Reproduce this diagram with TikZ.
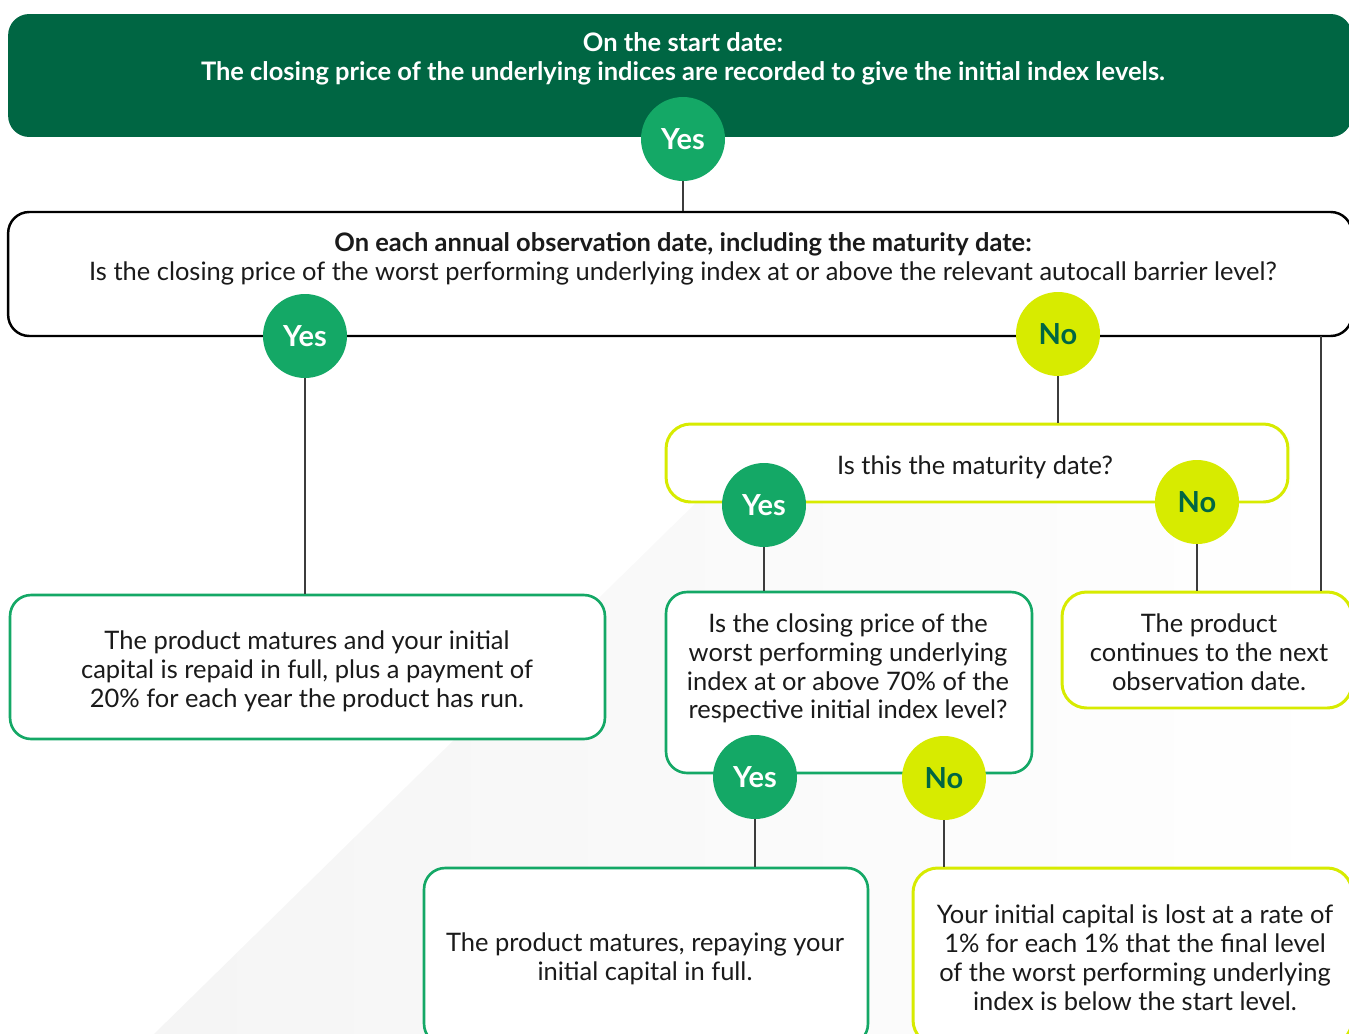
\documentclass[tikz,border=0pt]{standalone}
\usepackage{fontspec}
\setmainfont{Lato}

\definecolor{bankgreen}{HTML}{006643}
\definecolor{yesgreen}{HTML}{14A866}
\definecolor{nolime}{HTML}{D7EB00}
\definecolor{linkgray}{HTML}{3C3C3C}
\definecolor{inkblack}{HTML}{1A1A1A}

\tikzset{
  body/.style={font=\fontsize{14.5}{16.4}\selectfont, text=inkblack, align=center},
  startbox/.style={rectangle, rounded corners=12pt, fill=bankgreen},
  obsbox/.style={rectangle, rounded corners=12pt, draw=black, line width=1.4pt, fill=white},
  greenbox/.style={rectangle, rounded corners=12pt, draw=yesgreen, line width=1.5pt, fill=white},
  limebox/.style={rectangle, rounded corners=14pt, draw=nolime, line width=1.7pt, fill=white},
  yes/.style={circle, fill=yesgreen, minimum size=1.68cm, inner sep=0pt, text=white,
    font=\fontsize{16.5}{16.5}\bfseries\selectfont},
  no/.style={circle, fill=nolime, minimum size=1.68cm, inner sep=0pt, text=bankgreen,
    font=\fontsize{16.5}{16.5}\bfseries\selectfont},
  link/.style={draw=linkgray, line width=0.7pt}
}

\begin{document}
\begin{tikzpicture}[x=0.02cm, y=-0.02cm]
  \useasboundingbox (0,0) rectangle (1349,1034);
  % faint backdrop
  \shade[left color=black!4, right color=white] (154,1034) -- (760,440) -- (1349,440) -- (1349,1034) -- cycle;

  % boxes
  \node[startbox, minimum width=26.88cm, minimum height=2.46cm] (start) at (680,75.5) {};
  \node[obsbox, minimum width=26.88cm, minimum height=2.48cm] (obs) at (680,274) {};
  \node[limebox, minimum width=12.44cm, minimum height=1.56cm] (mat) at (977,463) {};
  \node[greenbox, minimum width=11.9cm, minimum height=2.88cm] (repay) at (307.5,667) {};
  \node[greenbox, minimum width=7.32cm, minimum height=3.62cm] (barrier) at (849,682.5) {};
  \node[limebox, minimum width=5.8cm, minimum height=2.32cm] (cont) at (1207,650) {};
  \node[greenbox, minimum width=8.88cm, minimum height=3.54cm] (full) at (646,956.5) {};
  \node[limebox, minimum width=8.78cm, minimum height=3.54cm] (loss) at (1132.5,956.5) {};

  % texts
  \node[body, text=white, font=\fontsize{14.5}{16.4}\bfseries\selectfont] (starttxt) at (683,59)
    {On the start date:\\The closing price of the underlying indices are recorded to give the initial index levels.};
  \node[body] (obstxt) at (683,259)
    {\textbf{On each annual observation date, including the maturity date:}\\Is the closing price of the worst performing underlying index at or above the relevant autocall barrier level?};
  \node[body] (mattxt) at (975,467) {Is this the maturity date?};
  \node[body] (repaytxt) at (307,671)
    {The product matures and your initial\\capital is repaid in full, plus a payment of\\20\% for each year the product has run.};
  \node[body] (barriertxt) at (848,668.5)
    {Is the closing price of the\\worst performing underlying\\index at or above 70\% of the\\respective initial index level?};
  \node[body] (conttxt) at (1209,652)
    {The product\\continues to the next\\observation date.};
  \node[body] (fulltxt) at (645,959)
    {The product matures, repaying your\\initial capital in full.};
  \node[body] (losstxt) at (1135,957.5)
    {Your initial capital is lost at a rate of\\1\% for each 1\% that the final level\\of the worst performing underlying\\index is below the start level.};

  % answer bubbles
  \node[yes] (y0) at (683,139) {Yes};
  \node[yes] (y1) at (305,336) {Yes};
  \node[no]  (n1) at (1058,334) {No};
  \node[yes] (y2) at (764,505) {Yes};
  \node[no]  (n2) at (1197,502) {No};
  \node[yes] (y3) at (755,777) {Yes};
  \node[no]  (n3) at (944,778) {No};

  % connectors
  \draw[link] (y0.south) -- (y0.south |- obs.north);
  \draw[link] (y1.south) -- (y1.south |- repay.north);
  \draw[link] (n1.south) -- (n1.south |- mat.north);
  \draw[link] (y2.south) -- (y2.south |- barrier.north);
  \draw[link] (n2.south) -- (n2.south |- cont.north);
  \draw[link] (y3.south) -- (y3.south |- full.north);
  \draw[link] (n3.south) -- (n3.south |- loss.north);
  \coordinate (loop) at (1321,336);
  \draw[link] (loop) -- (loop |- cont.north);
\end{tikzpicture}
\end{document}
